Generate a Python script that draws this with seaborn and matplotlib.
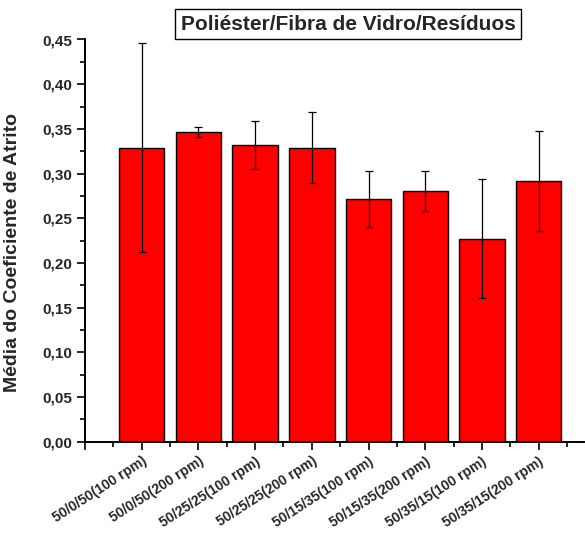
import matplotlib
matplotlib.use("Agg")
import matplotlib.pyplot as plt
import seaborn as sns
import pandas as pd
import numpy as np
from matplotlib.ticker import MultipleLocator, FixedLocator, FuncFormatter

categories = ["50/0/50(100 rpm)", "50/0/50(200 rpm)", "50/25/25(100 rpm)", "50/25/25(200 rpm)",
              "50/15/35(100 rpm)", "50/15/35(200 rpm)", "50/35/15(100 rpm)", "50/35/15(200 rpm)"]
means = [0.329, 0.3465, 0.332, 0.329, 0.2716, 0.2808, 0.2271, 0.292]
errors = [0.117, 0.006, 0.027, 0.040, 0.0318, 0.0226, 0.0666, 0.0557]
title = "Poliéster/Fibra de Vidro/Resíduos"
ylabel = "Média do Coeficiente de Atrito"

sns.set_theme(style="ticks")
plt.rcParams["font.family"] = ["Liberation Sans", "DejaVu Sans"]
plt.rcParams["font.weight"] = "bold"

df = pd.DataFrame({"cat": categories, "val": means})

fig = plt.figure(figsize=(5.85, 5.36), dpi=100)
ax = fig.add_axes([85/585, 1-441.7/536, 499/585, 402.2/536])

sns.barplot(data=df, x="cat", y="val", ax=ax, color="#ff0000", saturation=1,
            width=0.8, edgecolor="black", linewidth=1.0, errorbar=None)
xs = np.arange(len(categories))
ax.errorbar(xs, means, yerr=errors, fmt="none", ecolor="black", elinewidth=0.9,
            capsize=3, capthick=0.9)

ax.set_xlim(-1, 7.8)
ax.set_ylim(0, 0.45)
ax.yaxis.set_major_locator(MultipleLocator(0.05))
ax.yaxis.set_minor_locator(MultipleLocator(0.025))
ax.yaxis.set_major_formatter(FuncFormatter(lambda v, p: f"{v:.2f}".replace(".", ",")))
ax.set_xticks(range(-1, 8))
ax.set_xticklabels([""] + categories, rotation=33, ha="right", rotation_mode="anchor",
                   fontsize=10, fontweight="bold")
ax.xaxis.set_minor_locator(FixedLocator(np.arange(-0.5, 8, 1.0)))
for lab in ax.get_yticklabels():
    lab.set_fontsize(11)
    lab.set_fontweight("bold")
ax.tick_params(axis="both", which="major", direction="out", length=6, width=1.2, color="black", pad=3)
ax.tick_params(axis="both", which="minor", direction="out", length=3.5, width=1.2, color="black")
ax.tick_params(axis="x", which="major", pad=3)

for s in ["top", "right"]:
    ax.spines[s].set_visible(False)
for s in ["left", "bottom"]:
    ax.spines[s].set_linewidth(1.4)
    ax.spines[s].set_color("black")

ax.set_xlabel("")
ax.set_ylabel(ylabel, fontsize=14, fontweight="bold")
ax.yaxis.set_label_coords(-0.128, 0.47)

fig.text(348/585, 1-24/536, title, ha="center", va="center", fontsize=15, fontweight="bold",
         bbox=dict(boxstyle="square,pad=0.25", facecolor="white", edgecolor="black", linewidth=1))

fig.savefig("out.png", dpi=100)
